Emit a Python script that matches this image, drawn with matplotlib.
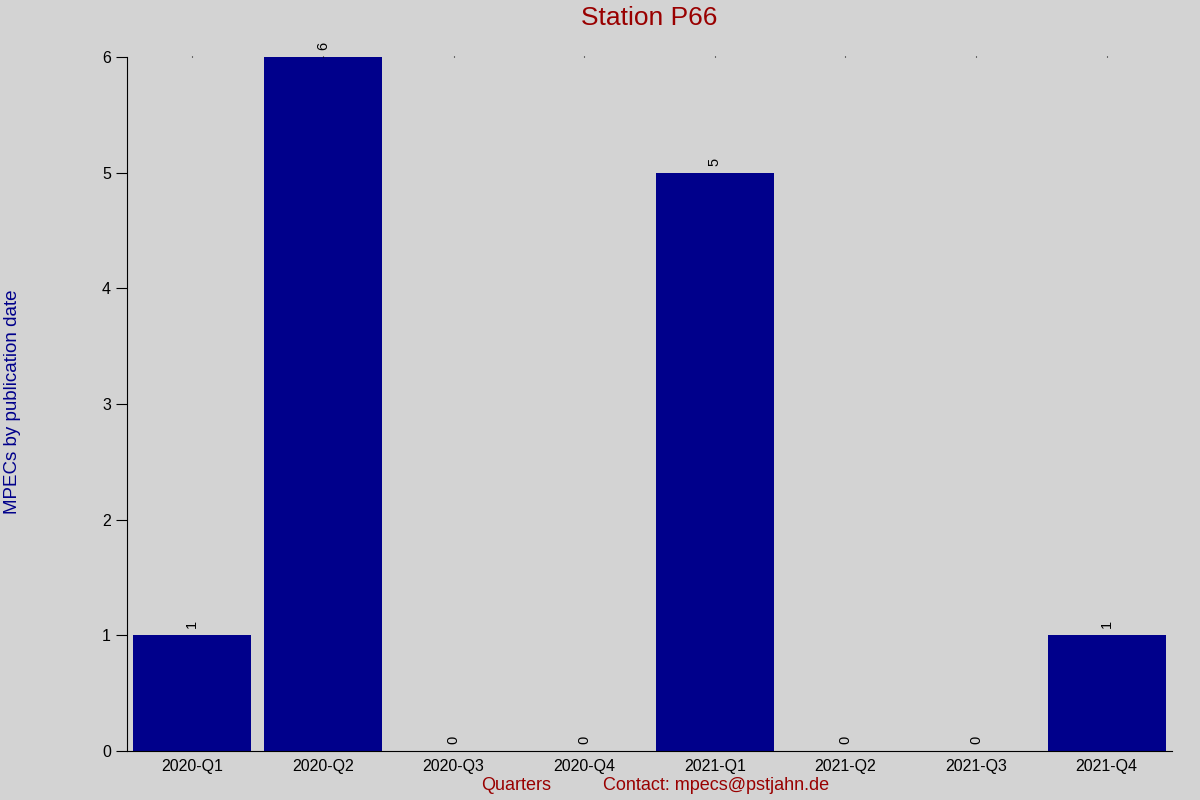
import matplotlib
matplotlib.use("Agg")
import matplotlib.pyplot as plt

plt.rcParams["font.family"] = ["Liberation Sans", "DejaVu Sans"]

quarters = ["2020-Q1", "2020-Q2", "2020-Q3", "2020-Q4",
            "2021-Q1", "2021-Q2", "2021-Q3", "2021-Q4"]
counts = [1, 6, 0, 0, 5, 0, 0, 1]

bg = "#d3d3d3"
bar_col = "#00008b"
red = "#990000"

fig = plt.figure(figsize=(12, 8), dpi=100, facecolor=bg)
ax = fig.add_axes([0.1058, 0.06125, 0.8709, 0.8675], facecolor=bg)

x = list(range(len(quarters)))
ax.bar(x, counts, width=0.9, color=bar_col)

# value labels above bars, rotated
for i, v in enumerate(counts):
    ax.text(i, v + 0.06, str(v), rotation=90, ha="center", va="bottom", fontsize=10.5)

ax.set_xlim(-0.5, len(quarters) - 0.5)
ax.set_ylim(0, max(counts))
ax.set_xticks(x)
ax.set_xticklabels(quarters, fontsize=11.5)
ax.set_yticks(range(0, max(counts) + 1))
ax.tick_params(axis="y", labelsize=11.5, length=8, direction="out")
ax.tick_params(axis="x", length=0, pad=6, top=True)
for t in ax.xaxis.get_major_ticks():
    t.tick2line.set_markersize(1)

ax.spines["top"].set_visible(False)
ax.spines["right"].set_visible(False)

fig.text(0.541, 0.977, "Station P66", ha="center", va="center", fontsize=19, color=red)
fig.text(481 / 1200, 0.0175, "Quarters", ha="left", va="center", fontsize=13, color=red)
fig.text(603 / 1200, 0.0175, "Contact: mpecs@pstjahn.de", ha="left", va="center",
         fontsize=13, color=red)
fig.text(0.0105, 0.4975, "MPECs by publication date", rotation=90, ha="center",
         va="center", fontsize=13.5, color=bar_col)

fig.savefig("out.png", dpi=100, facecolor=bg)
